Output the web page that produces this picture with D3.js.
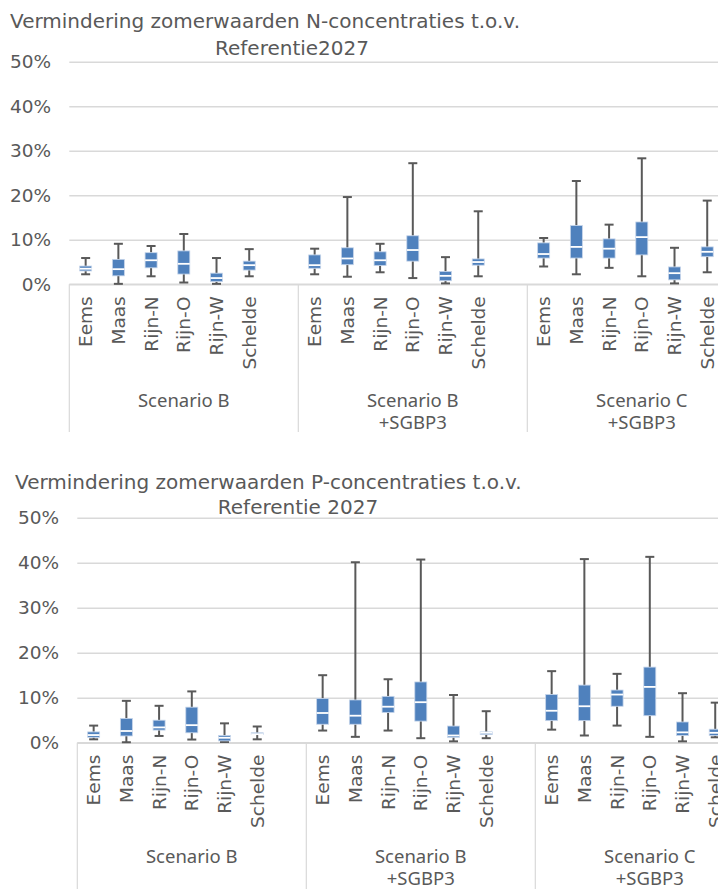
<!DOCTYPE html>
<html>
<head>
<meta charset="utf-8">
<script src="https://cdn.jsdelivr.net/npm/d3@7"></script>
<style>
  html, body { margin: 0; padding: 0; background: #fff; overflow: hidden; }
  svg { display: block; }
</style>
</head>
<body>
<svg id="chart" width="718" height="889"></svg>
<script>
// ---------- data ----------
const categories = ["Eems", "Maas", "Rijn-N", "Rijn-O", "Rijn-W", "Schelde"];
const scenarios = [["Scenario B"], ["Scenario B", "+SGBP3"], ["Scenario C", "+SGBP3"]];
const yTicks = [0, 10, 20, 30, 40, 50];

// N-concentraties (%), order: scenario x category
const nLow  = [2.25, 0.1, 1.8, 0.4, 0.1, 1.8,   2.25, 1.7, 2.7, 1.4, 0.2, 1.8,   4.0, 2.25, 3.7, 1.8, 0.2, 2.7];
const nQ1   = [3.0, 1.9, 3.7, 2.3, 0.6, 3.2,    3.6, 4.4, 4.2, 5.2, 0.8, 4.3,    5.9, 5.9, 5.9, 6.6, 1.0, 6.2];
const nMed  = [3.5, 3.4, 5.4, 4.6, 1.4, 4.3,    4.3, 5.8, 5.4, 7.7, 1.9, 5.0,    6.8, 8.4, 8.0, 10.6, 2.5, 7.3];
const nQ3   = [4.1, 5.6, 7.1, 7.5, 2.5, 5.2,    6.6, 8.2, 7.3, 10.9, 2.9, 5.7,   9.3, 13.2, 10.2, 14.0, 3.9, 8.4];
const nHigh = [5.9, 9.1, 8.6, 11.3, 5.9, 7.9,   8.0, 19.6, 9.1, 27.2, 6.1, 16.4, 10.4, 23.2, 13.4, 28.3, 8.2, 18.8];

// P-concentraties (%)
const pLow  = [0.75, 0.1, 1.5, 0.7, 0.15, 0.75, 2.7, 1.3, 2.7, 1.0, 0.3, 1.0,    2.9, 1.6, 3.8, 1.3, 0.3, 1.2];
const pQ1   = [1.2, 1.5, 2.8, 2.2, 0.4, 1.8,    4.1, 4.1, 6.7, 4.8, 1.2, 1.8,    4.9, 4.9, 8.1, 6.0, 1.6, 1.6];
const pMed  = [1.7, 2.6, 3.4, 3.9, 1.1, 1.9,    6.6, 6.0, 8.0, 9.0, 1.6, 2.2,    7.1, 8.1, 10.7, 12.4, 2.3, 2.2];
const pQ3   = [2.4, 5.4, 5.0, 7.9, 1.6, 2.2,    9.8, 9.5, 10.3, 13.5, 3.7, 2.4,  10.7, 12.8, 11.7, 16.8, 4.6, 3.0];
const pHigh = [3.8, 9.3, 8.2, 11.4, 4.3, 3.6,   15.0, 40.1, 14.1, 40.7, 10.6, 7.0, 15.9, 40.8, 15.3, 41.3, 11.0, 8.9];

const titleN = ["Vermindering zomerwaarden N-concentraties t.o.v.", "Referentie2027"];
const titleP = ["Vermindering zomerwaarden P-concentraties t.o.v.", "Referentie 2027"];

// ---------- layout / style ----------
const TEXT = "#595959";
const GRID = "#d9d9d9";
const BOX = "#4f81bd";
const WHISK = "#595959";
const FONT = "DejaVu Sans, Verdana, sans-serif";
const FONT2 = "Noto Sans, Open Sans, sans-serif";

const svg = d3.select("#chart");

function drawChart(cfg, low, q1, med, q3, high, title) {
  const g = svg.append("g");
  const y = d3.scaleLinear().domain([0, 50]).range([cfg.y0, cfg.y50]);
  const slotKeys = d3.range(scenarios.length * (categories.length + 1));
  const x = d3.scaleBand().domain(slotKeys).range([cfg.left, cfg.left + cfg.groupW * scenarios.length]).padding(0);
  const nSlot = categories.length + 1;

  // title
  g.append("text").attr("x", cfg.t1x).attr("y", cfg.t1y)
    .attr("font-family", FONT).attr("font-size", cfg.titleSize).attr("fill", TEXT)
    .text(title[0]);
  g.append("text").attr("x", cfg.t2x).attr("y", cfg.t2y).attr("text-anchor", "middle")
    .attr("font-family", FONT).attr("font-size", cfg.titleSize).attr("fill", TEXT)
    .text(title[1]);

  // gridlines + y labels
  const yAxis = d3.axisLeft(y).tickValues(yTicks).tickFormat(d => d + "%")
    .tickSize(-(cfg.groupW * scenarios.length)).tickPadding(cfg.left - cfg.labelRight);
  const ya = g.append("g").attr("transform", `translate(${cfg.left},0)`).call(yAxis);
  ya.select(".domain").remove();
  ya.selectAll(".tick line").attr("stroke", GRID).attr("stroke-width", 1.5);
  ya.selectAll(".tick text").attr("font-family", FONT).attr("font-size", 18.5).attr("fill", TEXT);

  // category axis frame
  g.append("line").attr("x1", cfg.left).attr("x2", cfg.left + cfg.groupW * scenarios.length)
    .attr("y1", y(0)).attr("y2", y(0)).attr("stroke", GRID).attr("stroke-width", 1.5);
  d3.range(scenarios.length + 1).forEach(i => {
    const xx = i < scenarios.length ? x(i * nSlot) : cfg.left + cfg.groupW * scenarios.length;
    g.append("line").attr("x1", xx).attr("x2", xx).attr("y1", y(0)).attr("y2", cfg.sepBottom)
      .attr("stroke", GRID).attr("stroke-width", 1.2);
  });

  // category labels
  scenarios.forEach((sc, si) => {
    categories.forEach((c, ci) => {
      const cx = x(si * nSlot + ci) + x.bandwidth() / 2;
      g.append("text")
        .attr("transform", `translate(${cx},${y(0) + 12}) rotate(-90)`)
        .attr("text-anchor", "end").attr("dy", "0.36em")
        .attr("font-family", FONT).attr("font-size", 18.5).attr("fill", TEXT)
        .text(c);
    });
    const gx = x(si * nSlot) + cfg.groupW / 2;
    sc.forEach((line, li) => {
      g.append("text").attr("x", gx).attr("y", cfg.scY + li * 22).attr("text-anchor", "middle")
        .attr("font-family", FONT2).attr("font-size", 18.5).attr("fill", TEXT).text(line);
    });
  });

  // boxes
  const data = low.map((d, i) => ({
    s: Math.floor(i / categories.length), c: i % categories.length,
    low: low[i], q1: q1[i], med: med[i], q3: q3[i], high: high[i]
  }));
  const bw = 12, cap = 9;
  const bg = g.selectAll("g.box").data(data).join("g").attr("class", "box")
    .attr("transform", d => `translate(${x(d.s * nSlot + d.c) + x.bandwidth() / 2},0)`);
  bg.append("line").attr("x1", 0).attr("x2", 0).attr("y1", d => y(d.high)).attr("y2", d => y(d.q3))
    .attr("stroke", WHISK).attr("stroke-width", 2);
  bg.append("line").attr("x1", 0).attr("x2", 0).attr("y1", d => y(d.q1)).attr("y2", d => y(d.low))
    .attr("stroke", WHISK).attr("stroke-width", 2);
  bg.append("line").attr("x1", -cap / 2).attr("x2", cap / 2).attr("y1", d => y(d.high)).attr("y2", d => y(d.high))
    .attr("stroke", WHISK).attr("stroke-width", 2);
  bg.append("line").attr("x1", -cap / 2).attr("x2", cap / 2).attr("y1", d => y(d.low)).attr("y2", d => y(d.low))
    .attr("stroke", WHISK).attr("stroke-width", 2);
  bg.append("rect").attr("x", -bw / 2).attr("width", bw)
    .attr("y", d => y(d.q3)).attr("height", d => y(d.q1) - y(d.q3))
    .attr("fill", BOX).attr("stroke", "#c6d5ea").attr("stroke-width", 0.8);
  bg.append("line").attr("x1", -bw / 2).attr("x2", bw / 2).attr("y1", d => y(d.med)).attr("y2", d => y(d.med))
    .attr("stroke", "#ffffff").attr("stroke-width", 1.8);
}

drawChart({ left: 69.3, groupW: 229, y0: 284.3, y50: 61.7, labelRight: 51,
            t1x: 10, t1y: 28, t2x: 292, t2y: 55, titleSize: 20, sepBottom: 432, scY: 407 },
          nLow, nQ1, nMed, nQ3, nHigh, titleN);

drawChart({ left: 77.3, groupW: 229, y0: 742.7, y50: 517.7, labelRight: 59,
            t1x: 15, t1y: 489, t2x: 298, t2y: 514, titleSize: 20, sepBottom: 889, scY: 863 },
          pLow, pQ1, pMed, pQ3, pHigh, titleP);
</script>
</body>
</html>
